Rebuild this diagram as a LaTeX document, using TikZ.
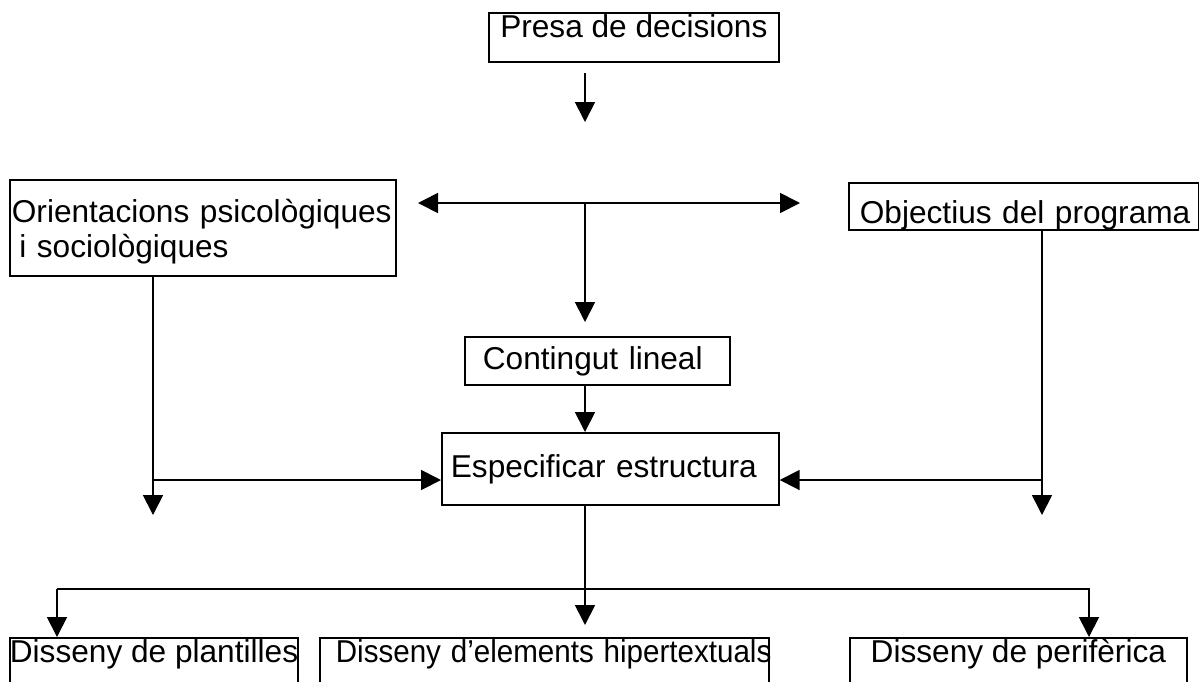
\documentclass[tikz,border=0pt]{standalone}
\usepackage{fontspec}
\usepackage{graphicx}
\setmainfont{Liberation Sans}
\usetikzlibrary{positioning,arrows.meta,calc}

\tikzset{
  box/.style={draw, line width=1pt, anchor=north west, inner sep=0pt},
  flow/.style={line width=1pt, -{Triangle[length=0.4cm,width=0.4cm]}},
  both/.style={line width=1pt, {Triangle[length=0.4cm,width=0.4cm]}-{Triangle[length=0.4cm,width=0.4cm]}},
}

\begin{document}
\begin{tikzpicture}[x=0.02cm, y=-0.02cm, font=\fontsize{18}{19.8}\selectfont]
  \useasboundingbox (0,0) rectangle (1199,681);
  \clip (0,0) rectangle (1199,681);

  % top row
  \node[box, minimum width=5.8cm, text height=0.5cm, text depth=0.48cm] (presa) at (488,12) {Presa de decisions};
  \node[box, inner xsep=0.04cm, text width=7.64cm, align=left, text height=0.86cm, text depth=1.06cm] (orient) at (9,179)
    {Orientacions psicològiques\\\hspace*{0.15cm}i sociològiques};
  \node[box, inner xsep=0.22cm, text width=6.56cm, align=left, text height=0.82cm, text depth=0.12cm] (obj) at (848,182)
    {\mbox{Objectius del programa}};

  % middle
  \node[box, inner xsep=0.36cm, text width=4.58cm, align=left, text height=0.66cm, text depth=0.3cm] (cont) at (464,336)
    {Contingut lineal};
  \node[box, inner xsep=0.18cm, text width=6.38cm, align=left, text height=0.9cm, text depth=0.54cm] (espec) at (441,432)
    {Especificar estructura};

  % bottom row
  \node[box, minimum width=5.76cm, text height=0.5cm, text depth=1.2cm] (plant) at (9,637) {Disseny de plantilles};
  \node[box, inner xsep=0.32cm, text width=8.34cm, align=left, text height=0.5cm, text depth=1.2cm] (hiper) at (319,637)
    {\scalebox{0.935}[1]{Disseny d’elements hipertextuals}};
  \node[box, minimum width=6.74cm, text height=0.5cm, text depth=1.2cm] (peri) at (849,637) {Disseny de perifèrica};

  % connectors
  \coordinate (d0) at (585,73);
  \coordinate (d1) at (585,122);
  \draw[flow] (d0) -- (d1);

  \coordinate (hl) at (418,203);
  \coordinate (hr) at (800,203);
  \coordinate (hm) at (585,203);
  \draw[both] (hl) -- (hr);
  \draw[flow, shorten >=0.28cm] (hm) -- (hm |- cont.north);
  \draw[flow] (hm |- cont.south) -- (hm |- espec.north);

  \coordinate (lb) at (153,515);
  \coordinate (lj) at (153,480);
  \draw[flow] (orient.south -| lb) -- (lb);
  \draw[flow] (lj) -- (lj -| espec.west);

  \coordinate (rb) at (1042,515);
  \coordinate (rj) at (1042,480);
  \draw[flow] (obj.south -| rb) -- (rb);
  \draw[flow] (rj) -- (rj -| espec.east);

  \coordinate (bm) at (585,625);
  \coordinate (bl) at (57,589);
  \coordinate (br) at (1089,589);
  \draw[flow] (espec.south -| bm) -- (bm);
  \draw[flow] (bl) -- (br) -- (br |- peri.north);
  \draw[flow] (bl) -- (bl |- plant.north);
\end{tikzpicture}
\end{document}
